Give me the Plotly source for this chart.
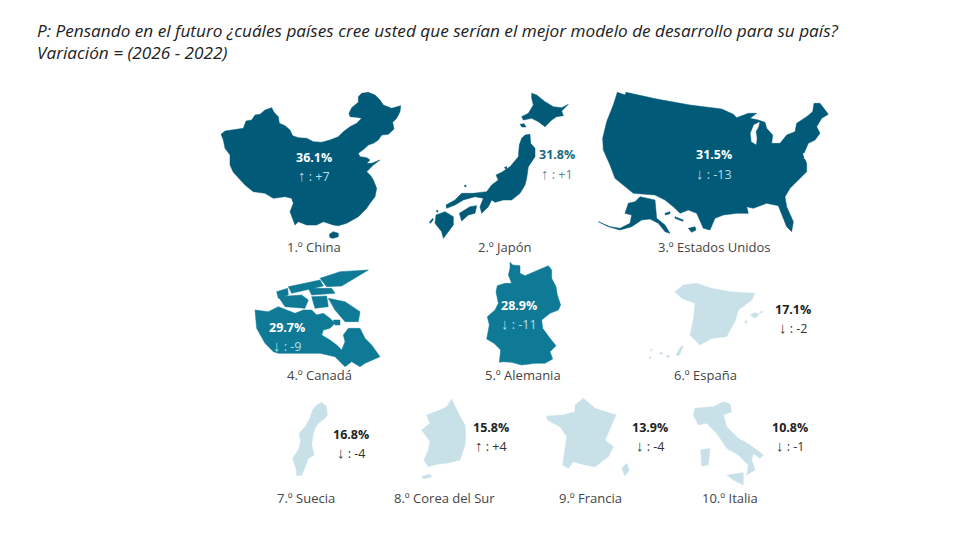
import plotly.graph_objects as go

# ranking
names = ["1.º China", "2.º Japón", "3.º Estados Unidos", "4.º Canadá", "5.º Alemania",
         "6.º España", "7.º Suecia", "8.º Corea del Sur", "9.º Francia", "10.º Italia"]
shares = [36.1, 31.8, 31.5, 29.7, 28.9, 17.1, 16.8, 15.8, 13.9, 10.8]
changes = [7, 1, -13, -9, -11, -2, -4, 4, -4, -1]

# outlines, one list of (x, y) rings per country
china = [
    [(33,148),(45,138),(65,135),(85,133),(100,130),(108,108),(125,105),(135,90),(150,88),(165,75),(185,68),
     (192,82),(205,95),(208,115),(225,122),(240,135),(248,152),(265,158),(290,160),(310,170),(335,172),
     (360,165),(385,155),(400,140),(420,125),(440,115),(455,100),(440,97),(420,95),(417,85),(425,68),(445,52),
     (445,35),(455,25),(475,22),(495,30),(510,45),(520,60),(545,70),(572,62),(570,80),(560,100),(548,112),
     (552,132),(535,148),(515,150),(505,165),(490,175),(475,180),(465,190),(445,205),(450,215),(470,218),
     (480,225),(470,235),(485,235),(510,225),(490,240),(470,260),(482,272),(490,285),(500,310),(495,335),
     (480,355),(470,370),(445,395),(410,415),(385,422),(370,420),(340,410),(320,420),(290,420),(265,410),
     (255,420),(240,380),(250,355),(245,340),(225,335),(190,340),(165,325),(130,320),(105,300),(85,280),
     (70,262),(60,240),(60,210),(45,190),(40,165)],
    [(358,448),(370,440),(385,445),(385,455),(370,460),(360,458)],
]
japan = [
    [(335,25),(350,30),(375,50),(400,65),(425,68),(445,58),(425,78),(430,92),(410,95),(395,105),(375,125),
     (355,110),(335,100),(310,105),(305,95),(325,85),(340,60),(335,40)],
    [(315,150),(330,148),(332,175),(345,190),(345,215),(325,245),(320,280),(315,300),(300,325),(275,345),
     (250,345),(225,352),(215,345),(205,365),(185,385),(180,365),(190,340),(165,335),(130,345),(105,360),
     (80,370),(78,360),(105,345),(125,325),(160,325),(200,320),(215,300),(235,285),(228,270),(245,262),
     (270,245),(295,215),(298,180),(305,160)],
    [(118,385),(150,365),(170,362),(165,385),(145,390),(125,408)],
    [(48,390),(75,380),(100,395),(100,420),(85,440),(70,460),(65,440),(45,415)],
    [(28,412),(38,400),(40,404),(31,415)],
    [(48,378),(54,376),(54,382)],
    [(132,303),(138,300),(138,306)],
    [(253,248),(260,244),(260,254)],
    [(300,118),(312,116),(318,126),(306,126)],
]
usa = [
    [(82,22),(105,30),(108,22),(200,42),(300,60),(395,72),(430,88),(440,98),(475,85),(500,85),(480,100),
     (505,105),(525,112),(530,130),(548,150),(545,175),(570,175),(590,150),(615,140),(620,115),(650,95),
     (668,80),(672,55),(690,55),(715,88),(695,100),(680,125),(690,145),(675,165),(655,175),(640,210),(650,235),
     (650,260),(625,285),(600,310),(585,335),(590,365),(610,410),(605,440),(590,425),(575,385),(565,362),
     (530,355),(490,370),(470,365),(475,385),(440,385),(400,390),(375,400),(360,435),(340,430),(320,385),
     (295,375),(270,385),(250,365),(225,345),(195,330),(130,325),(75,280),(60,240),(40,195),(38,160),
     (50,110),(70,60)],
    [(135,350),(150,335),(195,345),(200,400),(225,420),(240,445),(225,440),(205,415),(180,402),(155,405),
     (125,425),(90,435),(55,425),(25,410),(60,425),(90,430),(120,415),(125,390),(105,385),(115,355)],
    [(225,385),(240,380),(240,386),(226,390)],
    [(255,395),(280,405),(278,409),(255,400)],
    [(295,430),(315,425),(318,435),(305,442)],
]
usa_lakes = [
    [(508,112),(492,120),(482,145),(485,170),(498,178),(500,160),(497,140),(505,125)],
    [(640,205),(648,205),(652,222),(644,222)],
]
canada = [
    [(30,150),(70,155),(100,140),(125,150),(150,160),(175,150),(200,150),(215,165),(235,160),(255,175),
     (270,190),(255,205),(235,210),(230,225),(255,240),(275,255),(290,270),(300,245),(295,225),(310,205),
     (345,205),(360,235),(380,255),(405,290),(385,300),(360,310),(345,320),(320,305),(300,320),(290,310),
     (270,290),(225,280),(100,280),(85,275),(60,250),(35,205)],
    [(250,115),(300,125),(345,155),(340,185),(300,185),(270,150)],
    [(100,110),(170,105),(190,120),(180,145),(120,140)],
    [(95,95),(128,85),(130,105),(100,115)],
    [(130,80),(225,60),(235,78),(140,100)],
    [(225,55),(285,35),(370,30),(320,60),(290,78),(245,80)],
    [(190,85),(260,85),(270,100),(200,105)],
    [(200,110),(245,108),(250,140),(210,145)],
    [(265,180),(285,180),(285,195),(270,195)],
    [(370,285),(390,275),(392,292),(375,296)],
]
germany = [
    [(120,22),(128,30),(150,32),(150,55),(165,62),(190,50),(205,45),(235,32),(245,45),(245,70),(258,95),
     (262,120),(272,150),(265,165),(240,175),(215,195),(218,220),(240,250),(258,272),(240,290),(248,312),
     (225,325),(195,325),(155,330),(125,322),(100,320),(88,322),(92,285),(72,265),(50,252),(58,210),(52,185),
     (75,165),(85,145),(78,110),(82,92),(105,85),(125,85),(115,60),(120,40)],
]
spain = [
    [(130,45),(170,40),(215,55),(270,65),(345,70),(335,90),(295,120),(285,155),(270,180),(260,200),(215,205),
     (180,225),(150,195),(160,150),(165,100),(125,85),(105,65)],
    [(330,135),(345,128),(358,132),(345,145)],
    [(313,155),(320,150),(320,162)],
    [(357,127),(368,123),(366,129)],
    [(30,240),(36,238),(34,244)],
    [(27,262),(34,260),(32,266)],
    [(58,250),(68,246),(66,254)],
    [(78,258),(88,256),(86,264)],
    [(108,256),(122,230),(130,228),(118,256)],
]
sweden = [
    [(155,22),(170,35),(172,60),(165,70),(145,85),(135,100),(128,125),(125,150),(132,180),(115,190),(108,210),
     (95,240),(80,242),(78,220),(68,190),(85,165),(92,140),(88,115),(105,95),(120,70),(128,45),(140,30)],
]
korea = [
    [(545,12),(555,35),(565,55),(585,90),(587,120),(585,150),(570,195),(530,205),(500,208),(475,215),(462,195),
     (475,165),(480,140),(455,105),(480,85),(470,60),(510,45),(530,35)],
    [(455,245),(480,237),(485,245),(462,252)],
]
france = [
    [(160,25),(195,55),(258,75),(240,115),(225,150),(250,170),(235,200),(195,230),(165,225),(130,215),
     (115,235),(98,225),(110,140),(90,110),(52,90),(50,78),(100,75),(135,65),(135,45)],
    [(290,220),(298,240),(285,258),(275,235)],
]
italy = [
    [(495,55),(550,50),(580,35),(600,42),(605,65),(580,75),(590,110),(625,145),(660,165),(700,195),(690,205),
     (670,190),(665,210),(675,240),(650,255),(655,225),(625,195),(590,175),(560,130),(530,100),(505,105),
     (490,75)],
    [(512,180),(540,175),(535,225),(515,228)],
    [(590,255),(640,248),(640,285),(610,270)],
]

DARK = "#005a78"
MID = "#0f7a96"
LIGHT = "#c8e1e8"

# one small set of axes per map: rings, colour, (left, top, width, height) on the page
panels = [
    (china, DARK, (210, 85, 210, 175)),
    (japan, DARK, (420, 85, 170, 175)),
    (usa, DARK, (590, 85, 250, 175)),
    (canada, MID, (245, 260, 145, 125)),
    (germany, MID, (470, 255, 110, 130)),
    (spain, LIGHT, (640, 270, 190, 115)),
    (sweden + korea, LIGHT, (270, 395, 240, 115)),
    (france + italy, LIGHT, (530, 390, 290, 120)),
]

# text placement: name (x, y), value (x, y), value colour, change colour
text_spots = [
    ((314, 247), (314, 157), "white", "#b8dde6"),
    ((505, 247), (557, 155), "#1a6a85", "#5a8a99"),
    ((714, 247), (714, 155), "white", "#b8dde6"),
    ((319, 375), (287, 327), "white", "#b8dde6"),
    ((523, 375), (519, 305), "white", "#b8dde6"),
    ((705, 375), (793, 309), "#222222", "#333333"),
    ((306, 498), (351, 434), "#222222", "#333333"),
    ((444, 498), (491, 427), "#222222", "#333333"),
    ((590, 498), (650, 427), "#222222", "#333333"),
    ((730, 498), (790, 427), "#222222", "#333333"),
]


def page_x(x):
    return x / 960


def page_y(y):
    return 1 - y / 540


fig = go.Figure()
layout_axes = {}

for i, (rings, color, box) in enumerate(panels, start=1):
    left, top, w, h = box
    xs, ys = [], []
    for ring in rings:
        xs += [p[0] for p in ring] + [ring[0][0], None]
        ys += [p[1] for p in ring] + [ring[0][1], None]
    suffix = "" if i == 1 else str(i)
    fig.add_trace(go.Scatter(x=xs, y=ys, mode="lines", fill="toself", fillcolor=color,
                             line=dict(color=color, width=0.5), hoverinfo="skip",
                             xaxis="x" + suffix, yaxis="y" + suffix))
    if rings is usa:
        lx, ly = [], []
        for ring in usa_lakes:
            lx += [p[0] for p in ring] + [ring[0][0], None]
            ly += [p[1] for p in ring] + [ring[0][1], None]
        fig.add_trace(go.Scatter(x=lx, y=ly, mode="lines", fill="toself", fillcolor="white",
                                 line=dict(color="white", width=0.5), hoverinfo="skip",
                                 xaxis="x" + suffix, yaxis="y" + suffix))
    layout_axes["xaxis" + suffix] = dict(domain=[left / 960, (left + w) / 960], range=[0, w * 3], visible=False,
                                         anchor="y" + suffix, fixedrange=True)
    layout_axes["yaxis" + suffix] = dict(domain=[1 - (top + h) / 540, 1 - top / 540], range=[h * 3, 0], visible=False,
                                         anchor="x" + suffix, fixedrange=True)

notes = []
notes.append(dict(x=page_x(35), y=page_y(30), xref="paper", yref="paper", xanchor="left", yanchor="middle",
                  showarrow=False, font=dict(family="Open Sans", size=17.2, color="#222222"),
                  text="<i>P: Pensando en el futuro ¿cuáles países cree usted que serían el mejor modelo de desarrollo para su país?</i>"))
notes.append(dict(x=page_x(35), y=page_y(53), xref="paper", yref="paper", xanchor="left", yanchor="middle",
                  showarrow=False, font=dict(family="Open Sans", size=17.2, color="#222222"),
                  text="<i>Variación = (2026 - 2022)</i>"))

for name, share, change, spot in zip(names, shares, changes, text_spots):
    name_xy, value_xy, value_color, change_color = spot
    arrow = "↑" if change > 0 else "↓"
    notes.append(dict(x=page_x(name_xy[0]), y=page_y(name_xy[1]), xref="paper", yref="paper", showarrow=False,
                      xanchor="center", yanchor="middle",
                      font=dict(family="Open Sans", size=13, color="#444444"), text=name))
    notes.append(dict(x=page_x(value_xy[0]), y=page_y(value_xy[1]), xref="paper", yref="paper", showarrow=False,
                      xanchor="center", yanchor="middle",
                      font=dict(family="Open Sans", size=12.5, color=value_color), text=f"<b>{share:.1f}%</b>"))
    notes.append(dict(x=page_x(value_xy[0]), y=page_y(value_xy[1] + 18), xref="paper", yref="paper", showarrow=False,
                      xanchor="center", yanchor="middle",
                      font=dict(family="Open Sans", size=12.5, color=change_color),
                      text=f"<span style='font-size:15px'>{arrow}</span> : {change:+d}"))

fig.update_layout(width=960, height=540, margin=dict(l=0, r=0, t=0, b=0), showlegend=False,
                  paper_bgcolor="white", plot_bgcolor="white", annotations=notes, **layout_axes)

# page margin would push everything 8px off
fig.write_html("out.html", post_script="document.body.style.margin='0';", config={"displayModeBar": False})
